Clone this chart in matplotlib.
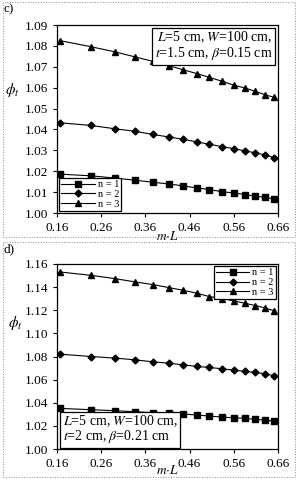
import numpy as np
import matplotlib.pyplot as plt
from matplotlib.patches import Rectangle

plt.rcParams['font.family'] = ['Liberation Serif', 'DejaVu Serif']
plt.rcParams['mathtext.fontset'] = 'stix'

# m*L values (same for both panels)
mL = [0.167, 0.237, 0.292, 0.337, 0.377, 0.413, 0.445, 0.477,
      0.505, 0.533, 0.560, 0.586, 0.609, 0.631, 0.652]

# panel c)  t=1.5 cm
c_n1 = [1.0186, 1.0178, 1.0167, 1.0157, 1.0147, 1.0139, 1.0130, 1.0120,
        1.0112, 1.0102, 1.0096, 1.0088, 1.0081, 1.0075, 1.0067]
c_n2 = [1.0432, 1.0419, 1.0403, 1.0391, 1.0376, 1.0364, 1.0353, 1.0340,
        1.0329, 1.0318, 1.0308, 1.0297, 1.0288, 1.0278, 1.0265]
c_n3 = [1.0825, 1.0796, 1.0771, 1.0747, 1.0726, 1.0705, 1.0686, 1.0667,
        1.0649, 1.0631, 1.0612, 1.0598, 1.0582, 1.0566, 1.0553]

# panel d)  t=2 cm
d_n1 = [1.0351, 1.0340, 1.0331, 1.0322, 1.0314, 1.0308, 1.0302, 1.0294,
        1.0285, 1.0276, 1.0270, 1.0265, 1.0256, 1.0250, 1.0239]
d_n2 = [1.0820, 1.0800, 1.0786, 1.0771, 1.0754, 1.0742, 1.0728, 1.0714,
        1.0705, 1.0694, 1.0682, 1.0671, 1.0662, 1.0650, 1.0633]
d_n3 = [1.1531, 1.1502, 1.1473, 1.1445, 1.1422, 1.1396, 1.1373, 1.1347,
        1.1318, 1.1301, 1.1281, 1.1260, 1.1240, 1.1220, 1.1194]

xticks = [0.16, 0.26, 0.36, 0.46, 0.56, 0.66]
labels = ['n = 1', 'n = 2', 'n = 3']
markers = ['s', 'D', '^']
msizes = [5, 3.5, 5]

W, H = 298, 480
fig = plt.figure(figsize=(W / 100, H / 100), dpi=100)


def px_axes(l, t, r, b):
    return fig.add_axes([l / W, 1 - b / H, (r - l) / W, (b - t) / H])


def draw_panel(ax, series, ylim, ystep, xlab_y, ylab_xy):
    for ys, lab, mk, ms in zip(series, labels, markers, msizes):
        ax.plot(mL, ys, color='black', lw=0.8, marker=mk, ms=ms, label=lab)
    ax.set_xlim(0.16, 0.66)
    ax.set_ylim(*ylim)
    ax.set_xticks(xticks)
    ax.set_xticklabels([f'{v:.2f}' for v in xticks])
    yt = np.arange(ylim[0], ylim[1] + ystep / 2, ystep)
    ax.set_yticks(yt)
    ax.set_yticklabels([f'{v:.2f}' for v in yt])
    ax.tick_params(labelsize=9.5, length=3, width=0.8, direction='out')
    for s in ax.spines.values():
        s.set_linewidth(0.9)
    ax.set_xlabel(r'$m{\cdot}L$', fontsize=9.5, va='center')
    ax.xaxis.set_label_coords(0.5, xlab_y)
    ax.set_ylabel(r'$\phi_t$', fontsize=11, rotation=0, va='center')
    ax.yaxis.set_label_coords(*ylab_xy)


def add_legend(ax, loc):
    leg = ax.legend(loc=loc, fontsize=7.5, frameon=True, fancybox=False,
                    edgecolor='black', handlelength=3.2, borderpad=0.2,
                    labelspacing=0.05, handletextpad=0.3, borderaxespad=0.2,
                    framealpha=1)
    leg.get_frame().set_linewidth(0.9)
    leg.set_zorder(5)


# dotted panel frames
for y0 in (1, 241):
    fig.patches.append(Rectangle((3 / W, 1 - (y0 + 236) / H), 292 / W, 235 / H,
                                 transform=fig.transFigure, fill=False,
                                 ls=':', lw=0.7, ec='#888888'))

box = dict(boxstyle='square,pad=0.2', fc='white', ec='black', lw=0.9)

ax1 = px_axes(57, 25, 278, 213)
draw_panel(ax1, [c_n1, c_n2, c_n3], (1.00, 1.09), 0.01, -0.125, (-0.2, 0.655))
add_legend(ax1, 'lower left')
ax1.text(0.975, 0.975, '$L$=5 cm, $W$=100 cm,\n$t$=1.5 cm, $\\beta$=0.15 cm',
         transform=ax1.transAxes, ha='right', va='top', fontsize=10,
         linespacing=0.95, bbox=box, zorder=5)
fig.text(4 / W, 1 - 9 / H, 'c)', fontsize=9.5, va='center')

ax2 = px_axes(57, 264, 278, 449)
draw_panel(ax2, [d_n1, d_n2, d_n3], (1.00, 1.16), 0.02, -0.115, (-0.19, 0.68))
add_legend(ax2, 'upper right')
ax2.text(0.025, 0.02, '$L$=5 cm, $W$=100 cm,\n$t$=2 cm, $\\beta$=0.21 cm',
         transform=ax2.transAxes, ha='left', va='bottom', fontsize=10,
         linespacing=0.95, bbox=box, zorder=5)
fig.text(4 / W, 1 - 249 / H, 'd)', fontsize=9.5, va='center')

fig.savefig('out.png', dpi=100)
